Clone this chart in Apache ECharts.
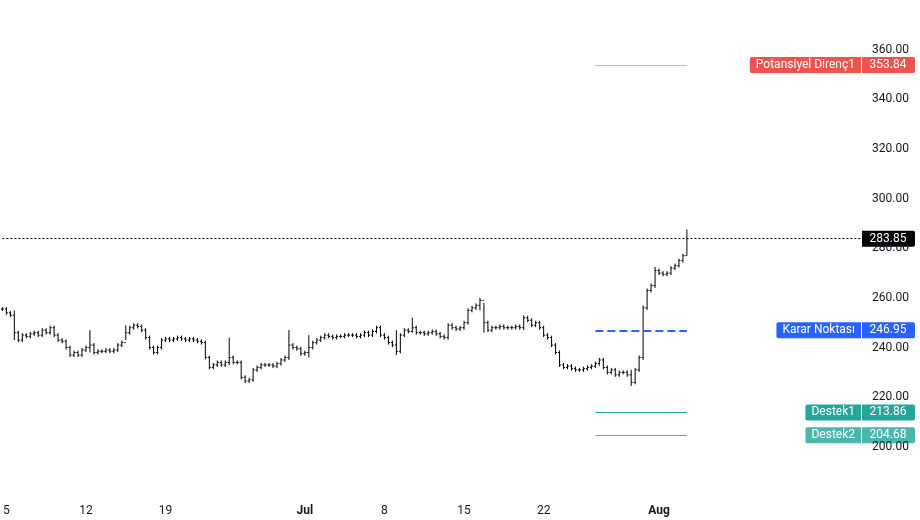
<!DOCTYPE html>
<html><head><meta charset="utf-8">
<script src="https://cdn.jsdelivr.net/npm/echarts@6/dist/echarts.min.js"></script>
<style>html,body{margin:0;padding:0;background:#fff}#c{width:920px;height:520px}</style>
</head><body><div id="c"></div>
<script>
const closes=[255.5,254,253,246,243,245,244.5,245.5,246,245,247,246,248,245,243,242.5,240,237,238,237,239,240,241,238,238.5,238.5,239,238.5,239,241,242,246,248,249,248.5,247,244,240,238,240,243,243.5,243,243.5,244,243.5,243,243.5,243,242.5,242,236,232,233,234,233,234,236,234,234,228,226.5,227,231,232,233,233,233,232.5,233.5,235,236,241,240,239.5,237.5,238,240,242,243,244,245,244.5,244,244.5,244.5,245,245,245,244.5,245,246,245,246.5,248,245,244,242,241,238.5,245,247,246.5,248,246,246,245.5,246,246.5,245.5,244.5,244,249,248,247.5,248,250,255,256,257,259,250,247,248,248,248.5,248,248,248,248.5,248,252,251,249,250,248,245,244,241,238,233,232,232.5,231.5,231,231,231.5,232,232.5,233.5,235,232,230,231,229,230,230,229,226,231,236,256,263,265,271,270,269.5,270,272,273,275,277,283.85];
// explicit extreme highs/lows [index, high, low]
const spikes=[[3,255,243],[22,247,238],[31,249,243],[57,244,233],[72,247,235],[77,245,236],[99,247,237],[103,252,246],[120,260,255],[121,258,246],[131,253,247],[158,231,224.5],[161,257,235],[164,272.5,264],[172,287.5,277]];
const tickIdx=[1,21,41,76,96,116,136,165];
const tickText=['5','12','19','Jul','8','15','22','Aug'];
const levels=[
 {name:'Potansiyel Direnç1',value:353.84,color:'#ef5350',type:'dotted',w:1,seg:true},
 {name:'Karar Noktası',value:246.95,color:'#2962ff',type:'dashed',w:2,seg:true},
 {name:'Destek1',value:213.86,color:'#26a69a',type:'solid',w:1,seg:true},
 {name:'Destek2',value:204.68,color:'#4db6ac',type:'solid',w:1,seg:true}
];
const last=283.85;
const N=217, segStart=149, segEnd=172;
const cats=[];for(let i=0;i<N;i++)cats.push(String(i));
const sp={};spikes.forEach(s=>sp[s[0]]=s);
const ohlc=closes.map((c,i)=>{const o=i?closes[i-1]:c;let h=Math.max(o,c)+0.8,l=Math.min(o,c)-0.8;if(sp[i]){h=sp[i][1];l=sp[i][2];}return [i,o,c,l,h];});
const chart=echarts.init(document.getElementById('c'));
const markData=levels.map(L=>[{coord:[segStart,L.value],lineStyle:{color:L.color,type:L.type,width:L.w}},{coord:[segEnd,L.value]}]);
markData.push([{coord:[0,last],lineStyle:{color:'#000',type:[2,2],width:1}},{coord:[N-1,last]}]);
chart.setOption({
 animation:false,
 grid:{left:0,right:58,top:-8.5,bottom:23.5},
 xAxis:{type:'category',data:cats,boundaryGap:false,axisLine:{show:false},axisTick:{show:false},splitLine:{show:false},
  axisLabel:{interval:(i)=>tickIdx.includes(i),formatter:(v,i)=>{const k=tickIdx.indexOf(+v);return k<0?'':(k==3||k==7?'{b|'+tickText[k]+'}':tickText[k]);},color:'#131722',fontSize:12,fontFamily:'Roboto',margin:8,rich:{b:{fontWeight:'bold',fontSize:12,fontFamily:'Roboto',color:'#131722'}}}},
 yAxis:{type:'value',position:'right',min:180,max:380,interval:20,axisLine:{show:false},axisTick:{show:false},splitLine:{show:false},
  axisLabel:{formatter:v=>(v<=180||v>=380)?'':v.toFixed(2),color:'#131722',fontSize:12,fontFamily:'Roboto',margin:10}},
 series:[{type:'custom',data:ohlc,encode:{x:0,y:[1,2,3,4]},
  renderItem:(p,api)=>{const x=api.coord([api.value(0),0])[0];const yo=api.coord([0,api.value(1)])[1],yc=api.coord([0,api.value(2)])[1],yl=api.coord([0,api.value(3)])[1],yh=api.coord([0,api.value(4)])[1];
   const st={stroke:'#000',lineWidth:1};
   return {type:'group',children:[{type:'line',shape:{x1:x,y1:yl,x2:x,y2:yh},style:st},{type:'line',shape:{x1:x-1.5,y1:yo,x2:x,y2:yo},style:st},{type:'line',shape:{x1:x,y1:yc,x2:x+1.5,y2:yc},style:st}]};},
  markLine:{silent:true,symbol:'none',label:{show:false},data:markData}}]
});
const g=[];
const ctx=document.createElement('canvas').getContext('2d');ctx.font='12px Roboto';
function box(val,name,color){const y=chart.convertToPixel({yAxisIndex:0},val);
 g.push({type:'rect',shape:{x:862,y:y-8,width:53,height:16,r:[0,2,2,0]},style:{fill:color}});
 g.push({type:'text',x:888,y:y,style:{text:val.toFixed(2),fill:'#fff',font:'12px Roboto',align:'center',verticalAlign:'middle'}});
 if(name){const w=ctx.measureText(name).width+12;g.push({type:'rect',shape:{x:861-w,y:y-8,width:w,height:16,r:[2,0,0,2]},style:{fill:color}});
  g.push({type:'text',x:861-w/2,y:y,style:{text:name,fill:'#fff',font:'12px Roboto',align:'center',verticalAlign:'middle'}});}}
levels.forEach(L=>box(L.value,L.name,L.color));
box(last,null,'#000');
chart.setOption({graphic:g});
</script></body></html>
